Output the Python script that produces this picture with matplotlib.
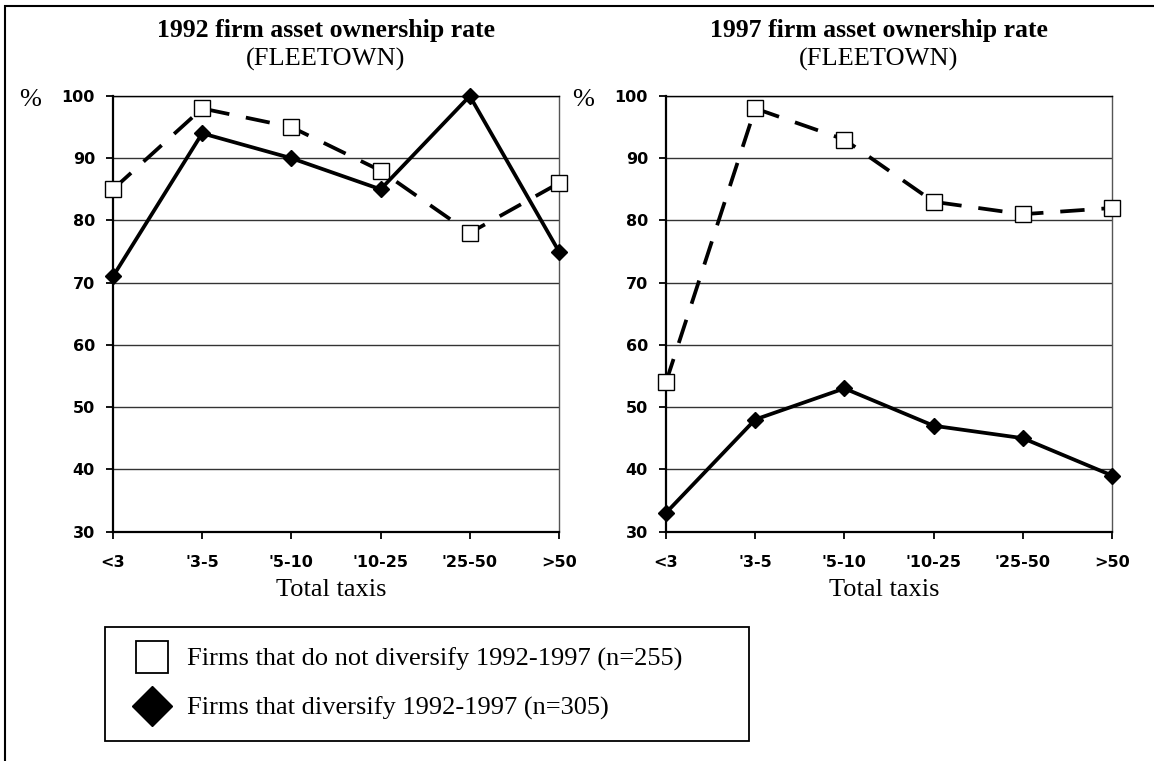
import matplotlib.pyplot as plt
from matplotlib.lines import Line2D
from matplotlib.patches import Rectangle

categories = ["<3", "'3-5", "'5-10", "'10-25", "'25-50", ">50"]
no_div_1992 = [85, 98, 95, 88, 78, 86]
div_1992 = [71, 94, 90, 85, 100, 75]
no_div_1997 = [54, 98, 93, 83, 81, 82]
div_1997 = [33, 48, 53, 47, 45, 39]
titles = ["1992 firm asset ownership rate", "1997 firm asset ownership rate"]
label_no = "Firms that do not diversify 1992-1997 (n=255)"
label_div = "Firms that diversify 1992-1997 (n=305)"

W, H = 1154, 761
fig = plt.figure(figsize=(W / 100, H / 100), dpi=100)
serif = "Liberation Serif"
sans = "DejaVu Sans"

# outer frame (only left and top edges show in the reference)
fig.patches.append(Rectangle((5 / W, -1), 2, 2 - 5.5 / H, transform=fig.transFigure,
                             fill=False, edgecolor="black", lw=1.5))

axes_left = [113, 666]
title_x = [326, 879]
series = [(no_div_1992, div_1992), (no_div_1997, div_1997)]

for i in range(2):
    ax = fig.add_axes([axes_left[i] / W, (H - 531.5) / H, 446 / W, 435.5 / H])
    x = list(range(len(categories)))
    no_div, div = series[i]
    ax.plot(x, no_div, color="black", lw=2.7, linestyle=(0, (6.5, 4.5)),
            marker="s", markersize=11.5, markerfacecolor="white",
            markeredgecolor="black", markeredgewidth=1.0, clip_on=False, zorder=3)
    ax.plot(x, div, color="black", lw=2.7, marker="D", markersize=8,
            markerfacecolor="black", markeredgecolor="black", clip_on=False, zorder=4)
    ax.set_xlim(0, 5)
    ax.set_ylim(30, 100)
    ax.set_yticks(range(30, 101, 10))
    ax.set_xticks(x)
    ax.set_xticklabels(categories)
    ax.yaxis.grid(True, color="#333333", lw=1.0)
    ax.set_axisbelow(True)
    for s in ax.spines.values():
        s.set_color("#555555")
        s.set_linewidth(1.0)
    ax.spines["top"].set_color("black")
    ax.spines["left"].set_color("black")
    ax.spines["left"].set_linewidth(1.6)
    ax.spines["bottom"].set_color("black")
    ax.spines["bottom"].set_linewidth(1.6)
    ax.tick_params(direction="out", length=5, width=1.3)
    ax.tick_params(axis="y", pad=8)
    ax.tick_params(axis="x", pad=12)
    for lab in ax.get_xticklabels() + ax.get_yticklabels():
        lab.set_fontfamily(sans)
        lab.set_fontweight("bold")
        lab.set_fontsize(11.5)
    ax.set_xlabel("Total taxis", fontfamily=serif, fontsize=19)
    ax.xaxis.set_label_coords(0.49, -0.108)
    # "%" unit label to the left of the 100 tick
    ax.text(-0.186, 0.99, "%", transform=ax.transAxes,
            fontfamily=serif, fontsize=19, ha="center", va="center")
    fig.text(title_x[i] / W, 1 - 37.5 / H, titles[i], fontfamily=serif,
             fontweight="bold", fontsize=18.5, ha="center", va="baseline")
    fig.text(title_x[i] / W, 1 - 66 / H, "(FLEETOWN)", fontfamily=serif,
             fontsize=19, ha="center", va="baseline")

handles = [
    Line2D([], [], linestyle="none", marker="s", markersize=23,
           markerfacecolor="white", markeredgecolor="black", markeredgewidth=1.3),
    Line2D([], [], linestyle="none", marker="D", markersize=20,
           markerfacecolor="black", markeredgecolor="black"),
]
leg = fig.legend(handles, [label_no, label_div], loc="upper left",
                 bbox_to_anchor=(105 / W, 1 - 627 / H, 644 / W, 0.0001), mode="expand",
                 prop={"family": serif, "size": 19}, frameon=True, fancybox=False,
                 edgecolor="black", framealpha=1, borderpad=0.78, labelspacing=0.95,
                 handlelength=2.0, handletextpad=0.33, borderaxespad=0)
leg.get_frame().set_linewidth(1.3)

fig.savefig("out.png", dpi=100)
